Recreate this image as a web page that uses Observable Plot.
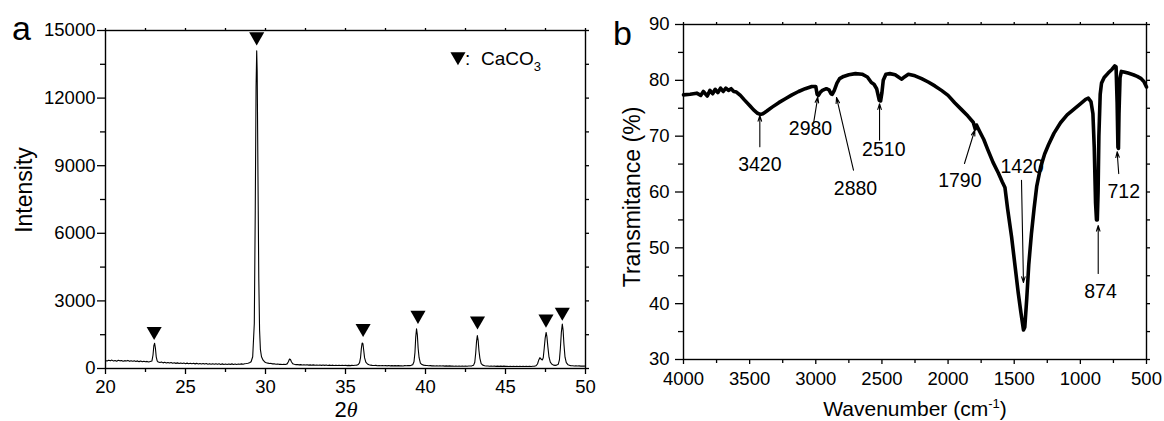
<!DOCTYPE html>
<html><head><meta charset="utf-8">
<script src="https://cdn.jsdelivr.net/npm/d3@7"></script>
<script src="https://cdn.jsdelivr.net/npm/@observablehq/plot@0.6"></script>
<style>
html,body{margin:0;padding:0;background:#fff;}
#wrap{position:relative;width:1164px;height:421px;overflow:hidden;font-family:"Liberation Sans",Arial,sans-serif;}
#pa,#pb{position:absolute;top:0;}
#pa{left:0}
#pb{left:600px}
#ov{position:absolute;left:0;top:0;pointer-events:none}
</style></head><body>
<div id="wrap"><div id="pa"></div><div id="pb"></div>
<svg id="ov" width="1164" height="421" font-family="Liberation Sans, Arial, sans-serif" fill="#000">
 <text x="12" y="40" font-size="34">a</text>
 <text x="613" y="45" font-size="34">b</text>
 <text transform="translate(32,190) rotate(-90)" text-anchor="middle" font-size="23">Intensity</text>
 <text x="346" y="417" text-anchor="middle" font-size="22">2<tspan font-family="Liberation Serif, serif" font-style="italic">θ</tspan></text>
 <text transform="translate(640,197) rotate(-90)" text-anchor="middle" font-size="23">Transmitance (%)</text>
 <text x="915" y="416" text-anchor="middle" font-size="21">Wavenumber (cm<tspan dy="-8" font-size="13">-1</tspan><tspan dy="8">)</tspan></text>
 <text x="465" y="65" font-size="19">:</text>
 <text x="481" y="65" font-size="19">CaCO<tspan dy="6" font-size="13">3</tspan></text>
</svg>
</div>
<script>
// ---------- Panel a: XRD pattern ----------
const xrdPattern = [
[20.0,350],[20.1,330],[20.2,365],[20.3,340],[20.4,372],[20.5,335],[20.6,358],[20.7,325],[20.8,362],[20.9,340],
[21.0,355],[21.1,320],[21.2,348],[21.3,330],[21.4,360],[21.5,318],[21.6,345],[21.7,325],[21.8,340],[21.9,312],
[22.0,338],[22.1,305],[22.2,330],[22.3,300],[22.4,325],[22.5,298],[22.6,315],[22.7,290],[22.8,310],[22.9,330],
[22.97,600],[23.02,1000],[23.07,1120],[23.12,900],[23.17,520],[23.23,340],[23.3,285],[23.4,265],[23.5,290],[23.6,250],
[23.7,275],[23.8,245],[23.9,268],[24.0,240],[24.1,262],[24.2,230],[24.3,255],[24.4,228],[24.5,250],[24.6,222],
[24.7,246],[24.8,220],[24.9,240],[25.0,215],[25.1,238],[25.2,212],[25.3,232],[25.4,208],[25.5,230],[25.6,205],
[25.7,228],[25.8,200],[25.9,222],[26.0,198],[26.1,225],[26.2,196],[26.3,218],[26.4,192],[26.5,215],[26.6,190],
[26.7,212],[26.8,188],[26.9,210],[27.0,185],[27.1,208],[27.2,182],[27.3,205],[27.4,180],[27.5,200],[27.6,178],
[27.7,198],[27.8,182],[27.9,205],[28.0,180],[28.1,200],[28.2,178],[28.3,196],[28.4,185],[28.5,205],[28.6,190],
[28.7,210],[28.8,220],[28.9,235],[29.0,255],[29.1,300],[29.2,520],[29.3,2000],[29.36,7000],[29.41,12500],[29.45,14100],
[29.48,13200],[29.53,8500],[29.58,4000],[29.63,1700],[29.68,850],[29.75,520],[29.85,370],[29.95,290],[30.05,255],[30.15,240],
[30.25,222],[30.35,226],[30.45,205],[30.55,210],[30.65,192],[30.75,200],[30.85,185],[30.95,190],[31.05,178],[31.15,188],
[31.25,180],[31.35,205],[31.43,300],[31.5,420],[31.56,400],[31.62,300],[31.7,210],[31.8,185],[31.9,170],[32.0,178],
[32.1,160],[32.2,172],[32.3,155],[32.4,168],[32.5,152],[32.6,165],[32.7,150],[32.8,162],[32.9,148],[33.0,160],
[33.1,145],[33.2,158],[33.3,142],[33.4,156],[33.5,140],[33.6,155],[33.7,138],[33.8,152],[33.9,136],[34.0,150],
[34.1,135],[34.2,148],[34.3,134],[34.4,146],[34.5,132],[34.6,145],[34.7,130],[34.8,144],[34.9,130],[35.0,142],
[35.1,128],[35.2,140],[35.3,128],[35.4,138],[35.5,130],[35.6,142],[35.7,150],[35.8,175],[35.88,260],[35.94,480],
[35.99,880],[36.04,1130],[36.09,1100],[36.14,800],[36.19,480],[36.27,280],[36.37,200],[36.47,165],[36.57,148],[36.67,140],
[36.8,132],[36.9,140],[37.0,125],[37.1,136],[37.2,122],[37.3,134],[37.4,120],[37.5,132],[37.6,118],[37.7,130],
[37.8,118],[37.9,128],[38.0,115],[38.1,128],[38.2,116],[38.3,126],[38.4,115],[38.5,125],[38.6,114],[38.7,126],
[38.8,120],[38.9,132],[39.0,128],[39.1,140],[39.2,170],[39.28,300],[39.34,700],[39.39,1400],[39.44,1760],[39.49,1500],
[39.54,900],[39.6,480],[39.68,240],[39.78,175],[39.88,150],[40.0,138],[40.1,130],[40.2,122],[40.3,128],[40.4,115],
[40.5,124],[40.6,112],[40.7,122],[40.8,110],[40.9,120],[41.0,108],[41.1,118],[41.2,106],[41.3,116],[41.4,105],
[41.5,115],[41.6,104],[41.7,114],[41.8,103],[41.9,113],[42.0,102],[42.1,112],[42.2,102],[42.3,110],[42.4,100],
[42.5,112],[42.6,102],[42.7,114],[42.8,108],[42.9,118],[43.0,140],[43.08,280],[43.14,700],[43.19,1200],[43.24,1460],
[43.29,1250],[43.34,800],[43.4,450],[43.48,220],[43.58,150],[43.7,125],[43.8,112],[43.9,108],[44.0,100],[44.1,110],
[44.2,98],[44.3,108],[44.4,96],[44.5,106],[44.6,95],[44.7,105],[44.8,94],[44.9,104],[45.0,93],[45.1,103],
[45.2,92],[45.3,102],[45.4,92],[45.5,100],[45.6,90],[45.7,100],[45.8,90],[45.9,100],[46.0,90],[46.1,98],
[46.2,88],[46.3,98],[46.4,88],[46.5,98],[46.6,90],[46.7,100],[46.8,98],[46.9,120],[47.0,200],[47.08,380],
[47.15,480],[47.22,420],[47.3,380],[47.36,480],[47.42,900],[47.48,1350],[47.54,1600],[47.59,1400],[47.65,950],[47.72,500],
[47.8,280],[47.9,190],[48.0,150],[48.1,140],[48.2,150],[48.3,190],[48.37,380],[48.43,900],[48.49,1600],[48.55,1970],
[48.6,1700],[48.65,1100],[48.72,500],[48.8,260],[48.9,170],[49.0,140],[49.1,125],[49.2,120],[49.3,112],[49.4,118],
[49.5,108],[49.6,116],[49.7,106],[49.8,114],[49.9,104],[50.0,110]
];
const caco3Peak2Theta = [23.04, 29.45, 36.1, 39.53, 43.25, 47.53, 48.55];
const caco3MarkIntensity = [1648, 14725, 1785, 2366, 2113, 2198, 2505];
const legendMark2Theta = [42.03];
const legendMarkIntensity = [13841];
const xrdMajorTicks = [20, 25, 30, 35, 40, 45, 50];
const xrdMinorTicks = [22.5, 27.5, 32.5, 37.5, 42.5, 47.5];
const intensityMajorTicks = [0, 3000, 6000, 9000, 12000, 15000];
const intensityMinorTicks = [1500, 4500, 7500, 10500, 13500];

// ---------- Panel b: FTIR spectrum ----------
const ftirSpectrum = [
[4000,77.4],[3950,77.5],[3900,77.7],[3870,77.3],[3850,78.0],[3820,77.2],[3800,78.2],[3780,77.6],[3760,78.4],[3740,77.8],
[3720,78.6],[3700,78.0],[3680,78.6],[3660,78.2],[3640,78.5],[3620,78.0],[3600,77.9],[3570,77.3],[3540,76.5],[3500,75.5],
[3470,74.7],[3440,74.1],[3420,73.9],[3400,74.0],[3370,74.5],[3330,75.2],[3280,76.0],[3230,76.7],[3180,77.4],[3130,78.0],
[3080,78.5],[3030,78.9],[3000,78.9],[2990,77.5],[2980,77.3],[2965,77.9],[2950,78.2],[2920,78.5],[2900,78.3],[2885,77.6],
[2875,77.5],[2860,78.2],[2840,79.5],[2820,80.3],[2790,80.7],[2750,81.0],[2700,81.2],[2650,81.1],[2610,80.6],[2580,79.6],
[2560,79.3],[2540,78.5],[2520,76.4],[2510,76.3],[2500,77.8],[2490,80.0],[2470,81.1],[2440,81.2],[2400,81.0],[2370,80.5],
[2350,80.2],[2330,80.6],[2300,81.1],[2250,80.8],[2200,80.3],[2150,79.7],[2100,79.0],[2050,78.2],[2000,77.3],[1950,76.0],
[1900,74.8],[1850,73.6],[1810,72.5],[1795,71.3],[1785,72.0],[1760,70.8],[1730,69.4],[1700,67.6],[1660,65.3],[1620,63.4],
[1590,61.8],[1570,60.8],[1550,57.0],[1520,52.0],[1500,48.0],[1470,42.0],[1450,38.5],[1430,35.3],[1420,35.8],[1405,41.0],
[1390,47.0],[1370,52.5],[1350,57.0],[1330,61.0],[1300,64.5],[1270,66.8],[1240,68.5],[1200,70.5],[1150,72.4],[1100,73.8],
[1050,74.8],[1000,75.8],[960,76.6],[940,76.8],[920,76.2],[905,74.0],[895,68.0],[885,58.0],[878,55.0],[872,55.0],
[866,60.0],[860,70.0],[850,77.5],[840,79.5],[820,80.5],[790,81.3],[760,82.0],[740,82.6],[730,82.4],[722,76.0],
[716,68.0],[712,67.8],[708,74.0],[700,80.5],[690,81.6],[670,81.5],[640,81.3],[600,81.0],[570,80.7],[540,80.3],
[520,79.8],[500,78.8]
];
const bandLabels = ["3420", "2980", "2880", "2510", "1790", "1420", "874", "712"];
const bandLabelWavenumber = [3423, 3040, 2700, 2486, 1911, 1440, 848, 672];
const bandLabelTransmit = [64.8, 71.4, 60.6, 67.5, 62.1, 64.5, 42.1, 60.0];
const arrowFromWavenumber = [3423, 3017, 2715, 2518, 1876, 1445, 865, 710];
const arrowFromTransmit = [68.1, 72.3, 63.9, 69.3, 65.1, 62.1, 45.4, 63.3];
const arrowToWavenumber = [3423, 2985, 2843, 2518, 1798, 1430, 865, 722];
const arrowToTransmit = [73.7, 77.0, 76.9, 75.8, 71.1, 43.8, 54.0, 67.2];
const wnMajorTicks = [4000, 3500, 3000, 2500, 2000, 1500, 1000, 500];
const wnMinorTicks = [3750, 3250, 2750, 2250, 1750, 1250, 750];
const transMajorTicks = [30, 40, 50, 60, 70, 80, 90];
const transMinorTicks = [35, 45, 55, 65, 75, 85];

const blank = () => "";
const plain = d => String(d);
const baseStyle = {fontFamily: "Liberation Sans, Arial, sans-serif", fontSize: "18.5px", color: "#000", background: "transparent", overflow: "visible"};

const xrdRows = xrdPattern.map(([t, i]) => ({t, i}));
const markRows = caco3Peak2Theta.map((t, k) => ({t, i: caco3MarkIntensity[k]}));
const legRows = legendMark2Theta.map((t, k) => ({t, i: legendMarkIntensity[k]}));

const plotA = Plot.plot({
  width: 600, height: 421,
  marginLeft: 105, marginRight: 15, marginTop: 30, marginBottom: 53,
  style: baseStyle,
  x: {domain: [20, 50]},
  y: {domain: [0, 15000]},
  marks: [
    Plot.axisX({ticks: xrdMajorTicks, tickSize: 6, tickPadding: 5, tickFormat: plain, label: null, strokeWidth: 1.3}),
    Plot.axisX({ticks: xrdMinorTicks, tickSize: 4, tickFormat: blank, label: null, strokeWidth: 1.3}),
    Plot.axisX({anchor: "top", ticks: [...xrdMajorTicks, ...xrdMinorTicks], tickSize: 3, tickFormat: blank, label: null, strokeWidth: 1.3}),
    Plot.axisY({ticks: intensityMajorTicks, tickSize: 8, tickPadding: 2, tickFormat: plain, label: null, strokeWidth: 1.3}),
    Plot.axisY({ticks: intensityMinorTicks, tickSize: 5, tickFormat: blank, label: null, strokeWidth: 1.3}),
    Plot.axisY({anchor: "right", ticks: [...intensityMajorTicks, ...intensityMinorTicks], tickSize: 3, tickFormat: blank, label: null, strokeWidth: 1.3}),
    Plot.frame({stroke: "#000", strokeWidth: 1.4}),
    Plot.line(xrdRows, {x: "t", y: "i", stroke: "#000", strokeWidth: 1.1}),
    Plot.dot(markRows, {x: "t", y: "i", symbol: "triangle", r: 5.6, fill: "#000", stroke: "none", rotate: 180}),
    Plot.dot(legRows, {x: "t", y: "i", symbol: "triangle", r: 5.6, fill: "#000", stroke: "none", rotate: 180})
  ]
});
document.getElementById("pa").append(plotA);

const ftirRows = ftirSpectrum.map(([w, t]) => ({w, t}));
const labelRows = bandLabels.map((s, k) => ({s, w: bandLabelWavenumber[k], t: bandLabelTransmit[k]}));
const arrowRows = bandLabels.map((s, k) => ({
  w1: arrowFromWavenumber[k], t1: arrowFromTransmit[k],
  w2: arrowToWavenumber[k], t2: arrowToTransmit[k]
}));

const plotB = Plot.plot({
  width: 564, height: 421,
  marginLeft: 83, marginRight: 18, marginTop: 24, marginBottom: 62,
  style: baseStyle,
  x: {domain: [4000, 500]},
  y: {domain: [30, 90]},
  marks: [
    Plot.axisX({ticks: wnMajorTicks, tickSize: 5, tickPadding: 7, tickFormat: plain, label: null, strokeWidth: 1.3}),
    Plot.axisX({ticks: wnMinorTicks, tickSize: 4, tickFormat: blank, label: null, strokeWidth: 1.3}),
    Plot.axisX({anchor: "top", ticks: [...wnMajorTicks, ...wnMinorTicks], tickSize: 3, tickFormat: blank, label: null, strokeWidth: 1.3}),
    Plot.axisY({ticks: transMajorTicks, tickSize: 8, tickPadding: 6, tickFormat: plain, label: null, strokeWidth: 1.3}),
    Plot.axisY({ticks: transMinorTicks, tickSize: 5, tickFormat: blank, label: null, strokeWidth: 1.3}),
    Plot.axisY({anchor: "right", ticks: [...transMajorTicks, ...transMinorTicks], tickSize: 3, tickFormat: blank, label: null, strokeWidth: 1.3}),
    Plot.frame({stroke: "#000", strokeWidth: 1.4}),
    Plot.line(ftirRows, {x: "w", y: "t", stroke: "#000", strokeWidth: 3.6, strokeLinejoin: "round"}),
    Plot.arrow(arrowRows, {x1: "w1", y1: "t1", x2: "w2", y2: "t2", stroke: "#000", strokeWidth: 1.1, headLength: 8, headAngle: 35}),
    Plot.text(labelRows, {x: "w", y: "t", text: "s", fontSize: 19.5, fill: "#000"})
  ]
});
document.getElementById("pb").append(plotB);
</script>
</body></html>
